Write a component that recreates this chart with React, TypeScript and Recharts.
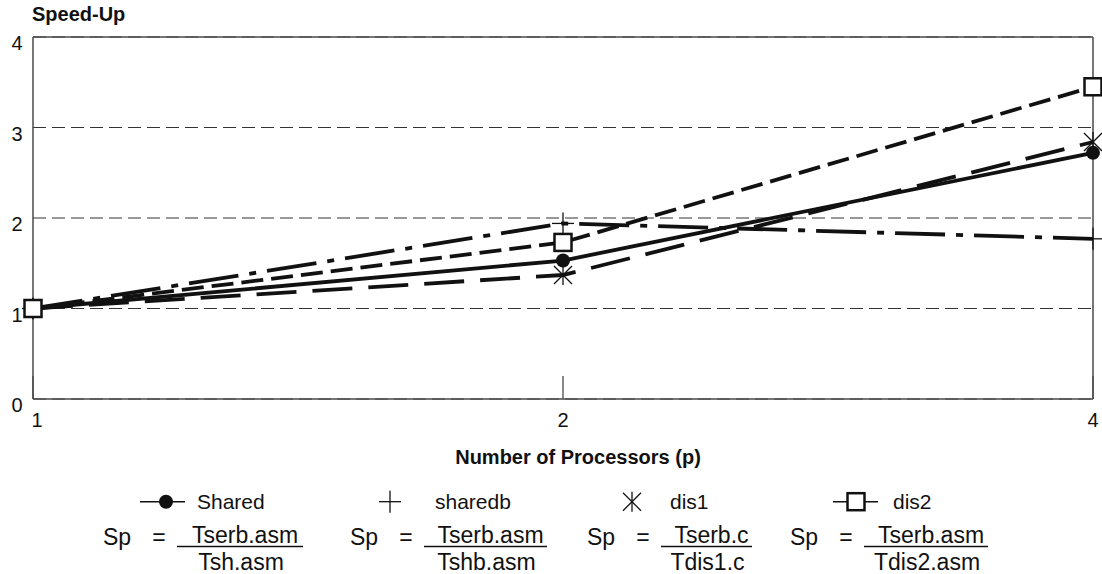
import React from 'react';
import { LineChart, Line, XAxis, YAxis, CartesianGrid, ReferenceLine, Legend } from 'recharts';

// Speed-up measured for each processor count
const processors = [1, 2, 4];
const sharedSpeedUp = [1.0, 1.53, 2.72];
const sharedbSpeedUp = [1.0, 1.94, 1.77];
const dis1SpeedUp = [1.0, 1.37, 2.84];
const dis2SpeedUp = [1.0, 1.73, 3.45];

const seriesNames = ['Shared', 'sharedb', 'dis1', 'dis2'];
const numerators = ['Tserb.asm', 'Tserb.asm', 'Tserb.c', 'Tserb.asm'];
const denominators = ['Tsh.asm', 'Tshb.asm', 'Tdis1.c', 'Tdis2.asm'];

const xTicks = [1, 2, 4];
const yTicks = [0, 1, 2, 3, 4];

const data = processors.map((p, i) => ({
  p,
  shared: sharedSpeedUp[i],
  sharedb: sharedbSpeedUp[i],
  dis1: dis1SpeedUp[i],
  dis2: dis2SpeedUp[i],
}));

const FONT = '"Liberation Sans", Arial, Helvetica, sans-serif';
const INK = '#111';
const AXIS = '#4a4a4a';
const LINE_W = 3.8;

// Marker glyphs
const CircleMark = ({ cx, cy }: any) => <circle cx={cx} cy={cy} r={7} fill={INK} />;
const PlusMark = ({ cx, cy }: any) => (
  <g stroke={INK} strokeWidth={1.3}>
    <line x1={cx - 11} y1={cy} x2={cx + 11} y2={cy} />
    <line x1={cx} y1={cy - 11} x2={cx} y2={cy + 11} />
  </g>
);
const StarMark = ({ cx, cy }: any) => (
  <g stroke={INK} strokeWidth={1.3}>
    <line x1={cx} y1={cy - 10} x2={cx} y2={cy + 10} />
    <line x1={cx - 9} y1={cy - 9} x2={cx + 9} y2={cy + 9} />
    <line x1={cx - 9} y1={cy + 9} x2={cx + 9} y2={cy - 9} />
  </g>
);
const SquareMark = ({ cx, cy }: any) => (
  <rect x={cx - 8.5} y={cy - 8.5} width={17} height={17} fill="#fff" stroke={INK} strokeWidth={2.5} />
);

const dotOf = (Comp: any) => (props: any) => <Comp key={`d-${props.index}`} cx={props.cx} cy={props.cy} />;

// Legend / formula layout (pixel slots of the four entries)
const LEGEND_TOP = 459;
const iconX = [166, 390, 632, 856];
const labelX = [197, 435, 670, 893];
const spX = [103, 350, 587, 790];
const fracEnd = [303, 547, 752, 988];

const legendIcons = [
  (x: number, y: number) => (
    <g>
      <line x1={x - 26} y1={y} x2={x + 19} y2={y} stroke={INK} strokeWidth={1.6} />
      <CircleMark cx={x} cy={y} />
    </g>
  ),
  (x: number, y: number) => <PlusMark cx={x} cy={y} />,
  (x: number, y: number) => <StarMark cx={x} cy={y} />,
  (x: number, y: number) => (
    <g>
      <line x1={x - 23} y1={y} x2={x + 22} y2={y} stroke={INK} strokeWidth={1.6} />
      <SquareMark cx={x} cy={y} />
    </g>
  ),
];

const LegendBlock = () => (
  <svg width={1102} height={115} style={{ display: 'block' }}>
    {seriesNames.map((name, i) => {
      const lineStart = spX[i] + 74;
      const mid = (lineStart + fracEnd[i]) / 2;
      return (
        <g key={name} fontFamily={FONT} fill={INK}>
          {legendIcons[i](iconX[i], 42.7)}
          <text x={labelX[i]} y={50} fontSize={21}>{name}</text>
          <text x={spX[i]} y={86} fontSize={23}>Sp</text>
          <text x={spX[i] + 56} y={86} fontSize={23} textAnchor="middle">=</text>
          <line x1={lineStart} y1={87.5} x2={fracEnd[i]} y2={87.5} stroke={INK} strokeWidth={1.5} />
          <text x={mid + 5} y={84} fontSize={23} textAnchor="middle">{numerators[i]}</text>
          <text x={mid + 1} y={111} fontSize={23} textAnchor="middle">{denominators[i]}</text>
        </g>
      );
    })}
  </svg>
);

const XTick = ({ x, y, payload }: any) => (
  <g>
    <line x1={x} y1={y - 23} x2={x} y2={y} stroke={AXIS} strokeWidth={1.3} />
    <text x={x + (payload.value === 1 ? 4 : 0)} y={y + 28} textAnchor="middle" fontSize={20} fontFamily={FONT} fill={INK}>
      {payload.value}
    </text>
  </g>
);

const YTick = ({ x, y, payload }: any) => (
  <text x={x - 16} y={y + 13} textAnchor="middle" fontSize={20} fontFamily={FONT} fill={INK}>
    {payload.value}
  </text>
);

export default function App() {
  return (
    <div style={{ position: 'absolute', left: 0, top: 0, width: 1102, height: 574, background: '#fff' }}>
      <LineChart width={1102} height={574} data={data} margin={{ top: 37, right: 9, left: 0, bottom: 0 }}>
        <CartesianGrid vertical={false} strokeDasharray="13 6" stroke="#333" strokeWidth={1} />
        <XAxis
          dataKey="p"
          type="number"
          scale="log"
          domain={[1, 4]}
          ticks={xTicks}
          height={60}
          tickLine={false}
          tickSize={0}
          tickMargin={0}
          axisLine={{ stroke: AXIS, strokeWidth: 1.5 }}
          tick={<XTick />}
          label={(props: any) => {
            const vb = props.viewBox || {};
            return (
              <text
                x={vb.x + vb.width / 2 + 15}
                y={vb.y + 65}
                textAnchor="middle"
                fontSize={20}
                fontWeight="bold"
                fontFamily={FONT}
                fill={INK}
              >
                Number of Processors (p)
              </text>
            );
          }}
        />
        <YAxis
          type="number"
          domain={[0, 4]}
          ticks={yTicks}
          width={33}
          tickLine={false}
          tickSize={0}
          tickMargin={0}
          axisLine={{ stroke: AXIS, strokeWidth: 1.5 }}
          tick={<YTick />}
          label={(props: any) => {
            const vb = props.viewBox || {};
            return (
              <text x={vb.x + vb.width - 1} y={vb.y - 16} fontSize={20} fontWeight="bold" fontFamily={FONT} fill={INK}>
                Speed-Up
              </text>
            );
          }}
        />
        <ReferenceLine y={4} stroke={AXIS} strokeWidth={1.5} />
        <ReferenceLine x={4} stroke={AXIS} strokeWidth={1.5} />
        <Legend
          verticalAlign="bottom"
          content={() => <LegendBlock />}
          wrapperStyle={{ position: 'absolute', top: LEGEND_TOP, left: 0, width: 1102, height: 115 }}
        />
        <Line dataKey="sharedb" name={seriesNames[1]} stroke={INK} strokeWidth={LINE_W} strokeDasharray="50 11 7 11" dot={dotOf(PlusMark)} activeDot={false} isAnimationActive={false} />
        <Line dataKey="dis1" name={seriesNames[2]} stroke={INK} strokeWidth={LINE_W} strokeDasharray="40 16" dot={dotOf(StarMark)} activeDot={false} isAnimationActive={false} />
        <Line dataKey="shared" name={seriesNames[0]} stroke={INK} strokeWidth={LINE_W} dot={dotOf(CircleMark)} activeDot={false} isAnimationActive={false} />
        <Line dataKey="dis2" name={seriesNames[3]} stroke={INK} strokeWidth={LINE_W} strokeDasharray="22 8" dot={dotOf(SquareMark)} activeDot={false} isAnimationActive={false} />
      </LineChart>
    </div>
  );
}
